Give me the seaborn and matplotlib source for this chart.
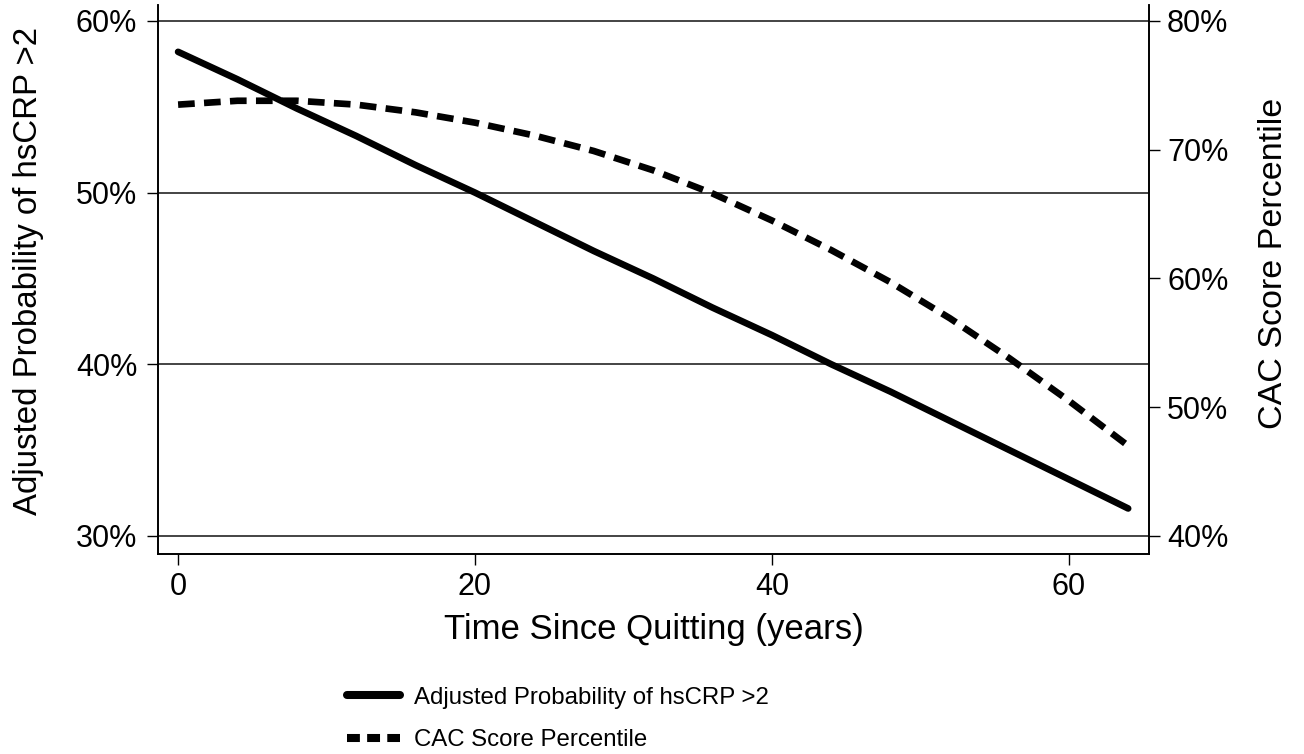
import matplotlib
matplotlib.use("Agg")
import matplotlib.pyplot as plt
from matplotlib.lines import Line2D
from matplotlib.ticker import PercentFormatter
import seaborn as sns

# values
years = [0, 4, 8, 12, 16, 20, 24, 28, 32, 36, 40, 44, 48, 52, 56, 60, 64]
hscrp_prob = [58.2, 56.6, 54.9, 53.3, 51.6, 50.0, 48.3, 46.6, 45.0, 43.3,
              41.7, 40.0, 38.4, 36.7, 35.0, 33.3, 31.6]
cac_pct = [73.5, 73.8, 73.8, 73.5, 72.9, 72.1, 71.1, 69.9, 68.4, 66.6,
           64.5, 62.2, 59.7, 56.9, 53.8, 50.5, 47.0]

left_ticks = [30, 40, 50, 60]
right_ticks = [40, 50, 60, 70, 80]
x_ticks = [0, 20, 40, 60]

label_hscrp = "Adjusted Probability of hsCRP >2"
label_cac = "CAC Score Percentile"

sns.set_theme(style="ticks")
plt.rcParams["font.family"] = ["Liberation Sans", "DejaVu Sans"]
plt.rcParams["axes.edgecolor"] = "black"
plt.rcParams["axes.linewidth"] = 1.2
plt.rcParams["text.color"] = "black"
plt.rcParams["axes.labelcolor"] = "black"

fig = plt.figure(figsize=(13.04, 7.54), dpi=100)
ax = fig.add_axes([0.1212, 0.2653, 0.7599, 0.7281])
ax2 = ax.twinx()

sns.lineplot(x=years, y=hscrp_prob, ax=ax, color="black", linewidth=4.8,
             solid_capstyle="round")
sns.lineplot(x=years, y=cac_pct, ax=ax2, color="black", linewidth=4.8,
             linestyle=(0, (2.5, 1.4)))

ax.set_xlim(-1.35, 65.4)
ax.set_ylim(28.95, 60.93)
ax2.set_ylim(38.6, 81.24)
ax.set_xticks(x_ticks)
ax.set_yticks(left_ticks)
ax2.set_yticks(right_ticks)
ax.yaxis.set_major_formatter(PercentFormatter(decimals=0))
ax2.yaxis.set_major_formatter(PercentFormatter(decimals=0))

ax.grid(axis="y", color="#111111", linewidth=1.1)
ax.grid(axis="x", visible=False)
for a in (ax, ax2):
    a.spines["top"].set_visible(False)
    a.tick_params(length=8, width=1, colors="black", labelsize=22)
ax.tick_params(axis="y", pad=7)
ax.tick_params(axis="x", pad=5)
ax2.tick_params(axis="y", pad=5)

ax.set_xlabel("Time Since Quitting (years)", fontsize=25)
ax.set_ylabel(label_hscrp, fontsize=23.8)
ax2.set_ylabel(label_cac, fontsize=24.5)
ax.xaxis.set_label_coords(0.5, -0.108)
ax.yaxis.set_label_coords(-0.115, 0.515)
ax2.yaxis.set_label_coords(1.110, 0.53)

handles = [
    Line2D([0], [0], color="black", linewidth=5.8),
    Line2D([0], [0], color="black", linewidth=5.8, linestyle=(0, (1.6, 0.9))),
]
fig.legend(handles, [label_hscrp, label_cac], loc="upper left",
           bbox_to_anchor=(0.266, 0.089), frameon=False, fontsize=17.3,
           handlelength=2.2, handletextpad=0.6, labelspacing=0.85,
           borderpad=0, borderaxespad=0)

fig.savefig("out.png", dpi=100, facecolor="white")
